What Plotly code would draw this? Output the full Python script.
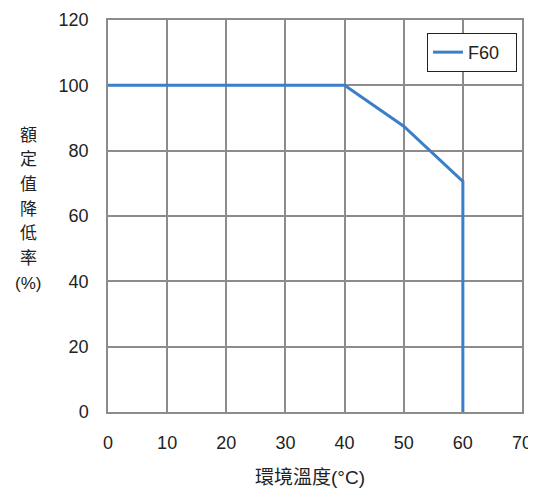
import plotly.graph_objects as go

temps = [0, 40, 50, 60, 60]
rates = [100, 100, 87.5, 70.6, 0]
series_name = "F60"
x_ticks = [0, 10, 20, 30, 40, 50, 60, 70]
y_ticks = [0, 20, 40, 60, 80, 100, 120]
x_title = "環境溫度(°C)"
y_title_chars = ["額", "定", "值", "降", "低", "率", "(%)"]

font_family = "Liberation Sans, Arial, Noto Sans CJK TC, sans-serif"

fig = go.Figure()
fig.add_trace(go.Scatter(
    x=temps, y=rates, mode="lines", name=series_name,
    line=dict(color="#3b7fc8", width=3),
))

axis_common = dict(
    showgrid=True, gridcolor="#8c8c8c", gridwidth=1.5,
    showline=True, linecolor="#8c8c8c", linewidth=1.5, mirror=True,
    zeroline=False, ticks="outside", tickcolor="rgba(0,0,0,0)", ticklen=14,
    tickfont=dict(size=18, color="#222", family=font_family),
    automargin=False,
)

fig.update_xaxes(range=[0, 70], tickvals=x_ticks, **axis_common)
fig.update_yaxes(range=[0, 120], tickvals=y_ticks, **axis_common)

# page offset of 8px (browser body margin) is compensated in margins/size
plot_h = 392.0
plot_w = 414.0
first_px, step_px = 115.0, 24.7  # from plot top (y=20) in pixels
for i, ch in enumerate(y_title_chars):
    py = first_px + step_px * i
    fig.add_annotation(
        text=ch, xref="paper", yref="paper",
        x=(28 - 108) / plot_w, y=1 - py / plot_h,
        xanchor="center", yanchor="middle", showarrow=False,
        font=dict(size=17, color="#222", family=font_family),
    )
fig.add_annotation(
    text=x_title, xref="paper", yref="paper",
    x=0.488, y=-66 / plot_h, xanchor="center", yanchor="middle", showarrow=False,
    font=dict(size=19, color="#222", family=font_family),
)

fig.update_layout(
    width=540, height=485,
    margin=dict(l=100, r=26, t=12, b=81, autoexpand=False),
    plot_bgcolor="white", paper_bgcolor="white",
    showlegend=True,
    legend=dict(
        x=0.988, y=0.967, xanchor="right", yanchor="top",
        orientation="h", entrywidth=43, entrywidthmode="pixels",
        bordercolor="#222", borderwidth=1, bgcolor="white",
        font=dict(size=18, color="#222", family=font_family),
    ),
)

fig.write_html("out.html")
